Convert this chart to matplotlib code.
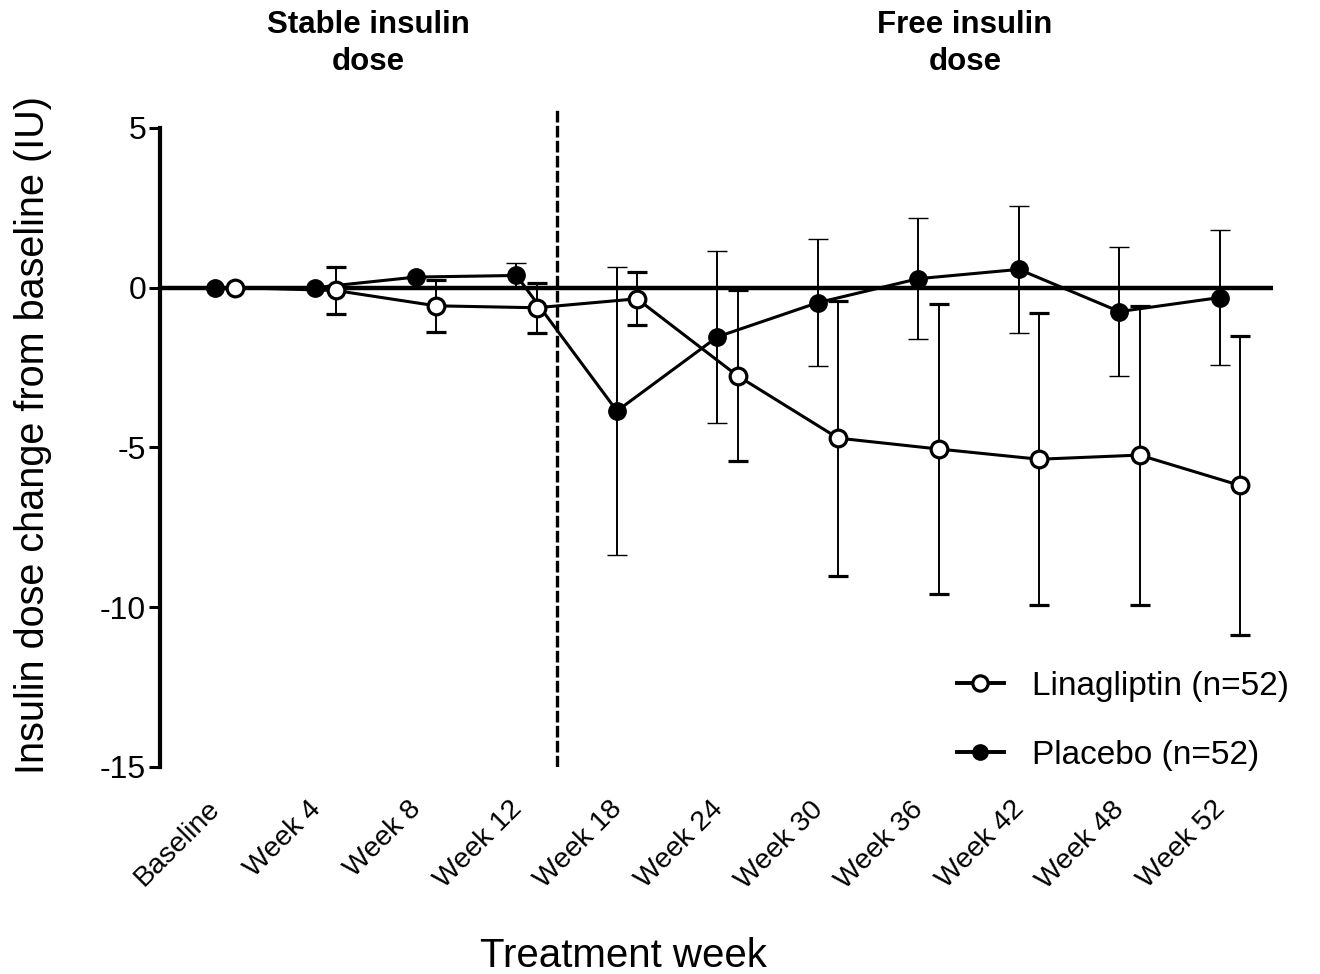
import matplotlib
matplotlib.use("Agg")
import matplotlib.pyplot as plt
import matplotlib.transforms as mtransforms
from matplotlib.lines import Line2D

plt.rcParams['font.family'] = ['Liberation Sans', 'DejaVu Sans']

categories = ['Baseline', 'Week 4', 'Week 8', 'Week 12', 'Week 18', 'Week 24',
              'Week 30', 'Week 36', 'Week 42', 'Week 48', 'Week 52']
lina_mean = [0, -0.09, -0.57, -0.63, -0.35, -2.76, -4.71, -5.05, -5.37, -5.24, -6.19]
lina_err = [0, 0.74, 0.82, 0.78, 0.83, 2.67, 4.30, 4.54, 4.57, 4.68, 4.69]
plac_mean = [0, 0.0, 0.33, 0.38, -3.86, -1.54, -0.47, 0.28, 0.57, -0.75, -0.31]
plac_err = [0, 0, 0, 0.38, 4.50, 2.70, 1.98, 1.90, 1.98, 2.02, 2.10]
y_ticks = [5, 0, -5, -10, -15]

fig = plt.figure(figsize=(13.2, 9.74), dpi=100)
ax = fig.add_axes([160 / 1320, 1 - 767 / 974, 1 - 160 / 1320, (767 - 108) / 974])

x = list(range(len(categories)))
off = 0.1
x_plac = [i - off for i in x]
x_lina = [i + off for i in x]

# zero reference line and phase separator
ax.hlines(0, -0.65, 10.43, color='black', lw=3.2, zorder=1)
ax.axvline(3.3, color='black', lw=2.4, ls=(0, (3.5, 1)), zorder=1)

ax.errorbar(x_plac, plac_mean, yerr=plac_err, color='black', lw=2.2,
            marker='o', ms=12.5, mfc='black', mec='black', mew=1,
            ecolor='black', elinewidth=1.4, capsize=7, capthick=1.4, zorder=3)
ax.errorbar(x_lina, lina_mean, yerr=lina_err, color='black', lw=2.2,
            marker='o', ms=12, mfc='white', mec='black', mew=2.3,
            ecolor='black', elinewidth=1.4, capsize=7, capthick=1.4, zorder=4)

ax.set_xlim(-0.647, 10.896)
ax.set_ylim(-15, 5.62)
ax.set_yticks(y_ticks)
ax.set_yticklabels([str(v) for v in y_ticks], fontsize=23)
ax.set_xticks(x)
ax.set_xticklabels(categories, fontsize=20.5, rotation=45, ha='right',
                   rotation_mode='anchor')
ax.tick_params(axis='x', length=0, pad=21)
ax.tick_params(axis='y', length=8, width=2.2, pad=2, direction='out')
shift = mtransforms.ScaledTranslation(-18 / 100, 0, fig.dpi_scale_trans)
for lbl in ax.get_xticklabels():
    lbl.set_transform(lbl.get_transform() + shift)

for s in ['top', 'right', 'bottom']:
    ax.spines[s].set_visible(False)
ax.spines['left'].set_linewidth(3)
ax.spines['left'].set_bounds(-15, 5)

fig.text(33 / 1320, 1 - 435 / 974, 'Insulin dose change from baseline (IU)',
         rotation=90, ha='center', va='center', fontsize=28.5)
fig.text(623 / 1320, 7 / 974, 'Treatment week', ha='center', va='baseline',
         fontsize=29)

fig.text(368 / 1320, 1 - 10 / 974, 'Stable insulin\ndose', ha='center', va='top',
         fontsize=22.5, fontweight='bold', linespacing=1.3)
fig.text(965 / 1320, 1 - 10 / 974, 'Free insulin\ndose', ha='center', va='top',
         fontsize=22.5, fontweight='bold', linespacing=1.3)

handles = [
    Line2D([], [], color='black', lw=2.8, marker='o', ms=11, mfc='white',
           mec='black', mew=2.3),
    Line2D([], [], color='black', lw=2.8, marker='o', ms=11, mfc='black',
           mec='black'),
]
fig.legend(handles, ['Linagliptin (n=52)', 'Placebo (n=52)'], loc='center left',
           bbox_to_anchor=(957 / 1320, 1 - 721 / 974), frameon=False,
           fontsize=24, handlelength=1.4, handletextpad=0.85, labelspacing=1.15,
           borderpad=0, borderaxespad=0)

fig.savefig('out.png', dpi=100)
